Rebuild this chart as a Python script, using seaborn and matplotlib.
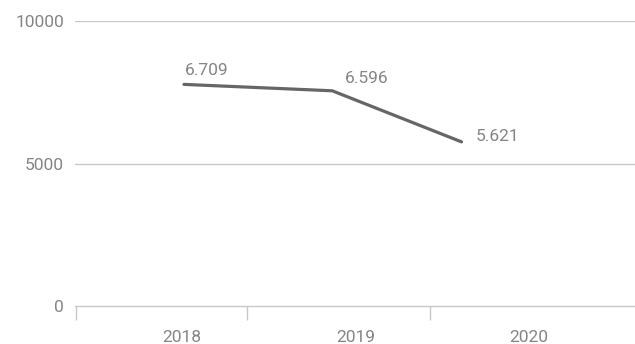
import matplotlib
matplotlib.use("Agg")
import matplotlib.pyplot as plt
import seaborn as sns
import pandas as pd

years = ["2018", "2019", "2020"]
values = [7776, 7551, 5759]
labels = ["6.709", "6.596", "5.621"]
point_pos = [0.01, 0.865, 1.61]      # where each point sits on the category axis
label_pos = [0, 1, 2]
band_edges = [-0.615, 0.375, 1.43]
y_ticks = [0, 5000, 10000]

sns.set_theme(style="white")
plt.rcParams['font.family'] = ['Roboto', 'DejaVu Sans']
txt_color = "#858585"

fig = plt.figure(figsize=(6.35, 3.44), dpi=100)
ax = fig.add_axes([75/635, 38/344, 560/635, 285/344])

df = pd.DataFrame({"x": point_pos, "y": values})
sns.lineplot(data=df, x="x", y="y", ax=ax, color="#666666", linewidth=2.3)

ax.set_ylim(0, 10000)
ax.set_xlim(-0.618, 2.61)
ax.set_yticks(y_ticks)
ax.set_yticklabels([str(t) for t in y_ticks])
for t in y_ticks[1:]:
    ax.axhline(t, color="#c8c8c8", linewidth=1, zorder=0)

ax.set_xticks(band_edges)
ax.set_xticklabels([])
ax.set_xticks(label_pos, minor=True)
ax.set_xticklabels(years, minor=True)
ax.tick_params(axis="x", which="major", bottom=True, length=10, width=1,
               color="#c8c8c8", direction="out")
ax.tick_params(axis="x", which="minor", bottom=True, length=0, pad=17,
               labelsize=12.5, labelcolor=txt_color)
ax.tick_params(axis="y", length=0, pad=8, labelsize=12.5, labelcolor=txt_color)

for s in ["top", "right", "left"]:
    ax.spines[s].set_visible(False)
ax.spines["bottom"].set_color("#c8c8c8")
ax.spines["bottom"].set_linewidth(1)

offsets = [(1, 14), (13, 12), (14, 5)]
for x, y, lab, off in zip(point_pos, values, labels, offsets):
    ax.annotate(lab, (x, y), xytext=off, textcoords="offset pixels",
                ha="left", va="center", fontsize=12.5, color=txt_color)

ax.set_xlabel("")
ax.set_ylabel("")
fig.savefig("out.png", dpi=100)
